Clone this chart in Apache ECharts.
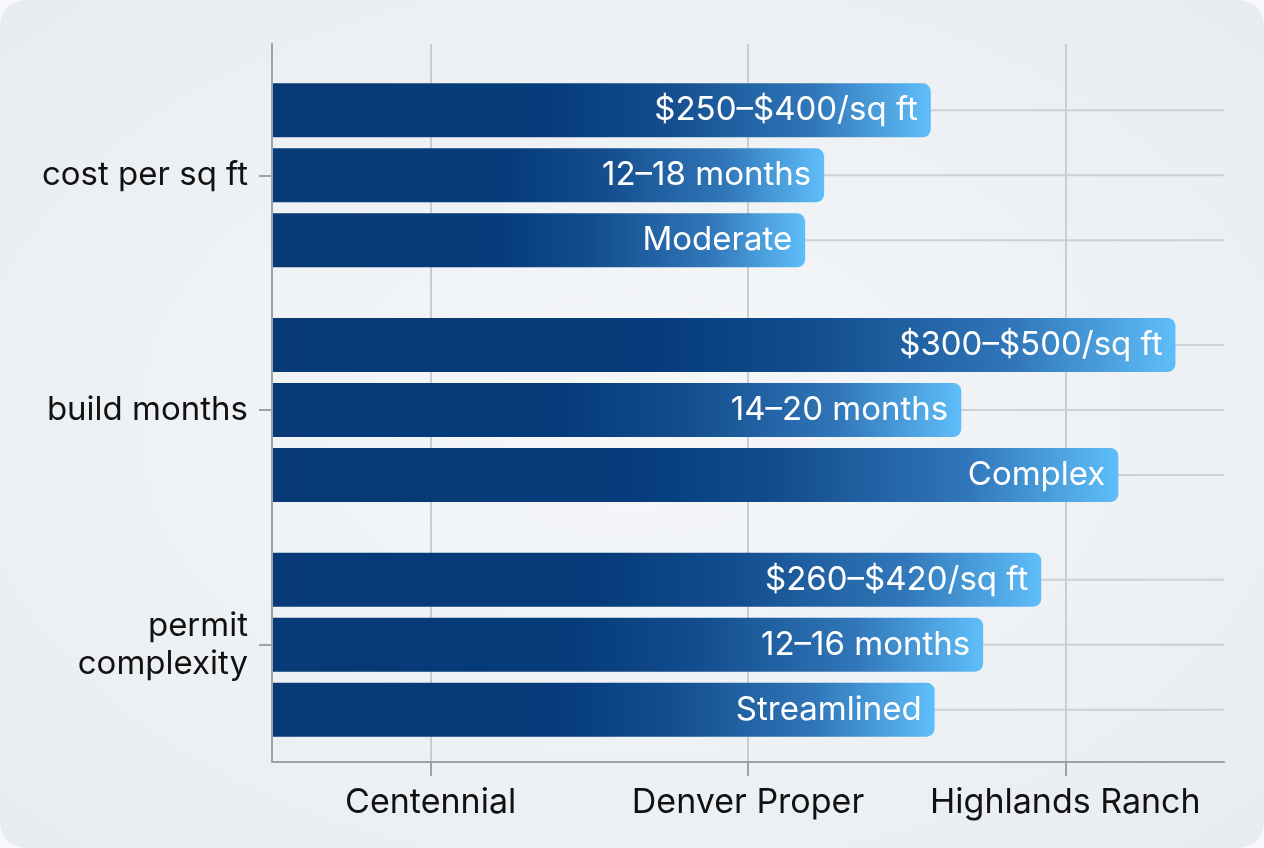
<!DOCTYPE html>
<html>
<head>
<meta charset="utf-8">
<script src="https://cdn.jsdelivr.net/npm/echarts@6/dist/echarts.min.js"></script>
<style>
  html, body { margin: 0; padding: 0; background: #f7f8fa; }
  #card {
    position: absolute; left: 0; top: 0; width: 1264px; height: 848px;
    border-radius: 26px; overflow: hidden;
    background: radial-gradient(ellipse at 50% 50%, #f5f7f9 0%, #eef1f4 60%, #e8ebef 100%);
  }
  #chart { width: 1264px; height: 848px; }
</style>
</head>
<body>
<div id="card"><div id="chart"></div></div>
<script>
// ---- data ----
const rowCategories = ['cost per sq ft', 'build months', 'permit complexity'];
const xTickLabels = ['Centennial', 'Denver Proper', 'Highlands Ranch'];
// bar lengths (0-100 scale) and the text shown on each bar
const seriesAValues = [69.2, 94.9, 80.8];
const seriesALabels = ['$250–$400/sq ft', '$300–$500/sq ft', '$260–$420/sq ft'];
const seriesBValues = [58.0, 72.4, 74.7];
const seriesBLabels = ['12–18 months', '14–20 months', '12–16 months'];
const seriesCValues = [56.0, 88.9, 69.6];
const seriesCLabels = ['Moderate', 'Complex', 'Streamlined'];
const valueMax = 100;

const FONT = 'Inter, "Noto Sans", sans-serif';
const barGradient = new echarts.graphic.LinearGradient(0, 0, 1, 0, [
  { offset: 0, color: '#073a76' },
  { offset: 0.42, color: '#053b7a' },
  { offset: 0.6, color: '#134d8e' },
  { offset: 0.82, color: '#3076b8' },
  { offset: 1, color: '#5fbef9' }
]);

function barSeries(values, labels) {
  return {
    type: 'bar',
    xAxisIndex: 1, yAxisIndex: 1,
    barWidth: 54, barGap: '20.4%',
    z: 5,
    data: values.map((v, i) => ({ value: v, labelText: labels[i] })),
    itemStyle: { color: barGradient, borderRadius: [0, 8, 8, 0] },
    label: {
      show: true, position: 'insideRight', distance: 13,
      color: '#ffffff', fontSize: 33, fontFamily: FONT,
      formatter: p => p.data.labelText
    }
  };
}
function gridLineSeries() {
  return {
    type: 'pictorialBar',
    xAxisIndex: 1, yAxisIndex: 1,
    barWidth: 54, barGap: '20.4%',
    symbol: 'rect', symbolSize: ['100%', 2], symbolPosition: 'start',
    itemStyle: { color: '#cdd0d4' },
    z: 1, silent: true,
    data: rowCategories.map(() => valueMax)
  };
}

const chart = echarts.init(document.getElementById('chart'), null, { renderer: 'canvas' });
chart.setOption({
  backgroundColor: 'transparent',
  animation: false,
  grid: [
    { left: 272, right: 40, top: 44, bottom: 86 },
    { left: 272, right: 40, top: 58, bottom: 86 }
  ],
  xAxis: [
    {
      gridIndex: 0, type: 'category', data: xTickLabels, boundaryGap: true,
      axisLine: { show: true, lineStyle: { color: '#9da2a8', width: 2 } },
      axisTick: { show: true, interval: 0, alignWithLabel: true, length: 14, lineStyle: { color: '#9da2a8', width: 2 } },
      axisLabel: { interval: 0, hideOverlap: false, color: '#111111', fontSize: 34, fontFamily: FONT, margin: 24 },
      splitLine: { show: true, interval: 0, alignWithLabel: true, lineStyle: { color: '#c9ccd0', width: 2 } },
      z: 2
    },
    {
      gridIndex: 1, type: 'value', min: 0, max: valueMax, show: false,
      splitLine: { show: false }
    }
  ],
  yAxis: [
    {
      gridIndex: 0, type: 'category', data: rowCategories, inverse: true,
      axisLine: { show: true, lineStyle: { color: '#9da2a8', width: 2 } },
      axisTick: { show: false }, axisLabel: { show: false }, splitLine: { show: false },
      z: 6
    },
    {
      gridIndex: 1, type: 'category', data: rowCategories, inverse: true,
      axisLine: { show: false },
      axisTick: { show: true, interval: 0, alignWithLabel: true, length: 13, lineStyle: { color: '#9da2a8', width: 2 } },
      axisLabel: {
        interval: 0, color: '#111111', fontSize: 33, fontFamily: FONT, margin: 24, lineHeight: 38,
        formatter: v => (v.length > 15 ? v.replace(' ', '\n') : v)
      },
      splitLine: { show: false }
    }
  ],
  series: [
    gridLineSeries(), gridLineSeries(), gridLineSeries(),
    barSeries(seriesAValues, seriesALabels),
    barSeries(seriesBValues, seriesBLabels),
    barSeries(seriesCValues, seriesCLabels)
  ]
});
</script>
</body>
</html>
